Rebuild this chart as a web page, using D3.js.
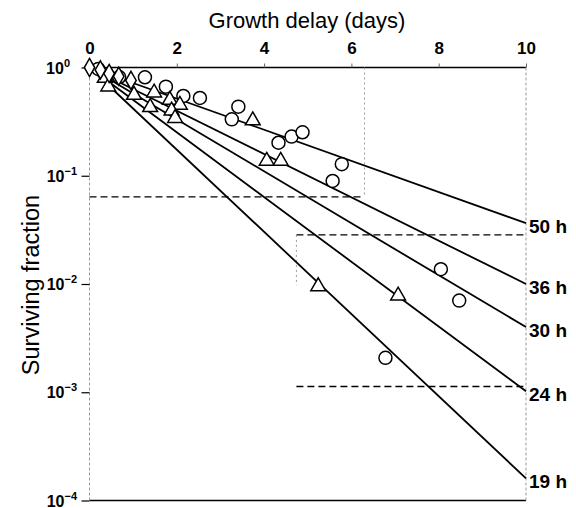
<!DOCTYPE html>
<html>
<head>
<meta charset="utf-8">
<script src="https://cdn.jsdelivr.net/npm/d3@7"></script>
<style>
  html, body { margin: 0; padding: 0; background: #fff; }
  svg { display: block; font-family: "Liberation Sans", Arial, sans-serif; }
</style>
</head>
<body>
<svg id="chart" width="576" height="508"></svg>
<script>
// Survival curves: surviving fraction against growth delay, one line per interval
const lineLabels = ["50 h", "36 h", "30 h", "24 h", "19 h"];
const lineEnds = [0.0365, 0.0100, 0.0040, 0.00102, 0.00016]; // surviving fraction at 10 days
const lineStart = 1; // all lines start at 1.0 at day 0

const xTicks = [0, 2, 4, 6, 8, 10];
const yTickExps = [0, -1, -2, -3, -4];

const circleX = [0.2, 0.68, 1.27, 1.75, 2.15, 2.53, 3.41, 3.26, 4.33, 4.63, 4.88, 5.78, 5.57, 8.05, 8.47, 6.78];
const circleY = [0.97, 0.817, 0.812, 0.665, 0.546, 0.523, 0.435, 0.332, 0.202, 0.230, 0.252, 0.128, 0.0895, 0.0137, 0.00703, 0.00208];

const triX = [0.35, 0.43, 1.02, 1.39, 1.48, 1.84, 2.07, 1.88, 1.96, 3.74, 4.06, 4.38, 5.24, 7.07];
const triY = [0.80, 0.665, 0.557, 0.429, 0.585, 0.501, 0.451, 0.399, 0.340, 0.324, 0.137, 0.137, 0.0095, 0.0078];

const diamondX = [0, 0.25, 0.45, 0.67, 0.95];
const diamondY = [1.0, 0.95, 0.88, 0.83, 0.76];

// Dashed reference levels: [x from, x to, fraction]
const dashFrom = [0, 4.74, 4.74];
const dashTo = [6.3, 10, 10];
const dashLevel = [0.0637, 0.0284, 0.00113];

const svg = d3.select("#chart");
const x = d3.scaleLinear().domain([0, 10]).range([89.5, 526]);
const y = d3.scaleLog().domain([1e-4, 1]).range([500.5, 67.5]);

const faint = "#9a9a9a";

// Frame: solid top and bottom, faint dotted sides
svg.append("line").attr("x1", x(0)).attr("x2", x(10)).attr("y1", y(1)).attr("y2", y(1))
  .attr("stroke", "#000").attr("stroke-width", 1.7);
svg.append("line").attr("x1", x(0)).attr("x2", x(10)).attr("y1", y(1e-4)).attr("y2", y(1e-4))
  .attr("stroke", "#000").attr("stroke-width", 1.7);
[0, 10].forEach(v => {
  svg.append("line").attr("x1", x(v)).attr("x2", x(v)).attr("y1", y(1)).attr("y2", y(1e-4))
    .attr("stroke", faint).attr("stroke-width", 1).attr("stroke-dasharray", "3,2");
});

// Top axis
const xAxis = d3.axisTop(x).tickValues(xTicks).tickSize(4).tickPadding(10).tickFormat(d3.format("d"));
const gx = svg.append("g").attr("transform", `translate(0,${y(1)})`).call(xAxis);
gx.select(".domain").remove();
gx.selectAll(".tick line").attr("stroke", "#666");
gx.selectAll(".tick text").attr("font-size", 17).attr("font-weight", "bold").attr("fill", "#000");

// Left axis with power-of-ten labels
const gy = svg.append("g").attr("transform", `translate(${x(0)},0)`)
  .call(d3.axisLeft(y).tickValues(yTickExps.map(e => Math.pow(10, e))).tickSize(8).tickFormat(""));
gy.select(".domain").remove();
gy.selectAll(".tick line").attr("stroke", "#000").attr("stroke-width", 1.2);
yTickExps.forEach(e => {
  const t = svg.append("text").attr("x", e === 0 ? 70 : 77).attr("y", y(Math.pow(10, e)) + 6)
    .attr("text-anchor", "end").attr("font-size", 16).attr("font-weight", "bold");
  t.append("tspan").text("10");
  t.append("tspan").attr("dy", -7).attr("font-size", 11).text(e === 0 ? "0" : "\u2212" + Math.abs(e));
});

// Axis titles
svg.append("text").attr("x", 307).attr("y", 28).attr("text-anchor", "middle")
  .attr("font-size", 22).text("Growth delay (days)");
svg.append("text").attr("transform", `translate(39,285) rotate(-90)`).attr("text-anchor", "middle")
  .attr("font-size", 23.5).text("Surviving fraction");

// Dashed reference levels
dashLevel.forEach((v, i) => {
  svg.append("line").attr("x1", x(dashFrom[i])).attr("x2", x(dashTo[i]))
    .attr("y1", y(v)).attr("y2", y(v))
    .attr("stroke", "#000").attr("stroke-width", 1.3).attr("stroke-dasharray", "7,4");
});
// faint connectors of the dashed boxes
svg.append("line").attr("x1", x(6.3)).attr("x2", x(6.3)).attr("y1", y(1)).attr("y2", y(dashLevel[0]))
  .attr("stroke", faint).attr("stroke-width", 1).attr("stroke-dasharray", "2,3");
svg.append("line").attr("x1", x(4.74)).attr("x2", x(4.74)).attr("y1", y(dashLevel[1])).attr("y2", y(0.0097))
  .attr("stroke", faint).attr("stroke-width", 1).attr("stroke-dasharray", "2,3");

// Fitted lines
lineEnds.forEach((v, i) => {
  svg.append("line").attr("x1", x(0)).attr("y1", y(lineStart)).attr("x2", x(10)).attr("y2", y(v))
    .attr("stroke", "#000").attr("stroke-width", 1.8);
  svg.append("text").attr("x", x(10) + 3).attr("y", y(v) + 10)
    .attr("font-size", 19).attr("font-weight", "bold").text(lineLabels[i]);
});

// Markers
const mk = svg.append("g").attr("fill", "#fff").attr("stroke", "#000").attr("stroke-width", 1.5);
circleX.forEach((v, i) => {
  mk.append("circle").attr("cx", x(v)).attr("cy", y(circleY[i])).attr("r", 6.5);
});
const tri = d3.symbol().type(d3.symbolTriangle).size(95);
triX.forEach((v, i) => {
  mk.append("path").attr("d", tri()).attr("transform", `translate(${x(v)},${y(triY[i])})`);
});
const dia = d3.symbol().type(d3.symbolDiamond).size(95);
diamondX.forEach((v, i) => {
  mk.append("path").attr("d", dia()).attr("transform", `translate(${x(v)},${y(diamondY[i])})`);
});
</script>
</body>
</html>
